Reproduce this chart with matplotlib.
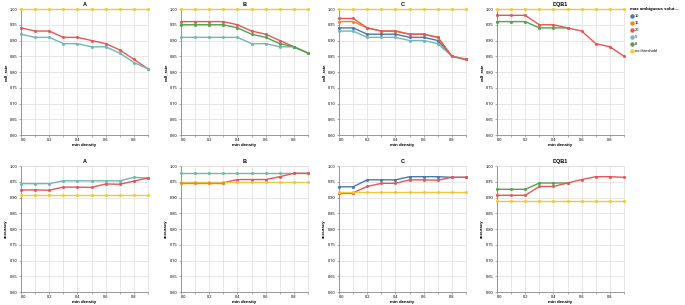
import numpy as np
import matplotlib
matplotlib.use("Agg")
import matplotlib.pyplot as plt
from matplotlib.lines import Line2D

plt.rcParams['font.family'] = ['Liberation Sans', 'DejaVu Sans']

nan = np.nan
min_density = [0.0, 0.1, 0.2, 0.3, 0.4, 0.5, 0.6, 0.7, 0.8, 0.9]
panels = ["A", "B", "C", "DQB1"]
series_names = ["10", "15", "20", "5", "8", "no threshold"]
colors = {"10": "#4c78a8", "15": "#f58518", "20": "#e45756",
          "5": "#72b7b2", "8": "#54a24b", "no threshold": "#eeca3b"}

# call_rate values
cr_A_20 = [0.94, 0.93, 0.93, 0.91, 0.91, 0.90, 0.89, 0.87, 0.84, 0.81]
cr_A_5 = [0.92, 0.91, 0.91, 0.89, 0.89, 0.88, 0.88, 0.86, 0.83, 0.81]
cr_A_none = [1.0] * 10
cr_B_20 = [0.96, 0.96, 0.96, 0.96, 0.95, 0.93, 0.92, 0.90, 0.88, 0.86]
cr_B_8 = [0.95, 0.95, 0.95, 0.95, 0.94, 0.92, 0.91, 0.89, 0.88, 0.86]
cr_B_5 = [0.91, 0.91, 0.91, 0.91, 0.91, 0.89, 0.89, 0.88, 0.88, 0.86]
cr_B_none = [1.0] * 10
cr_C_10 = [0.94, 0.94, 0.92, 0.92, 0.92, 0.91, 0.91, 0.90, 0.85, 0.84]
cr_C_15 = [0.96, 0.96, 0.94, 0.93, 0.93, 0.92, 0.92, 0.91, 0.85, 0.84]
cr_C_20 = [0.97, 0.97, 0.94, 0.93, 0.93, 0.92, 0.92, 0.91, 0.85, 0.84]
cr_C_5 = [0.93, 0.93, 0.91, 0.91, 0.91, 0.90, 0.90, 0.89, 0.85, 0.84]
cr_C_none = [1.0] * 10
cr_D_20 = [0.98, 0.98, 0.98, 0.95, 0.95, 0.94, 0.93, 0.89, 0.88, 0.85]
cr_D_8 = [0.96, 0.96, 0.96, 0.94, 0.94, 0.94, nan, nan, nan, nan]
cr_D_none = [1.0] * 10

# accuracy values
ac_A_5 = [0.944, 0.944, 0.944, 0.953, 0.953, 0.953, 0.953, 0.953, 0.964, 0.962]
ac_A_20 = [0.924, 0.924, 0.923, 0.933, 0.933, 0.932, 0.943, 0.942, 0.952, 0.962]
ac_A_none = [0.909] * 10
ac_B_5 = [0.977] * 10
ac_B_15 = [0.947, 0.947, 0.947, 0.947, nan, nan, nan, nan, nan, nan]
ac_B_20 = [nan, nan, nan, 0.947, 0.957, 0.957, 0.957, 0.966, 0.977, 0.977]
ac_B_none = [0.949] * 10
ac_C_10 = [0.934, 0.934, 0.956, 0.956, 0.956, 0.966, 0.966, 0.966, 0.964, 0.964]
ac_C_15 = [0.915, 0.915, nan, nan, nan, nan, nan, nan, nan, nan]
ac_C_20 = [0.915, 0.915, 0.935, 0.945, 0.945, 0.956, 0.956, 0.955, 0.964, 0.964]
ac_C_none = [0.918] * 10
ac_D_8 = [0.926, 0.926, 0.926, 0.946, 0.946, 0.946, nan, nan, nan, nan]
ac_D_20 = [0.907, 0.907, 0.907, 0.935, 0.935, 0.946, 0.957, 0.966, 0.966, 0.964]
ac_D_none = [0.888] * 10

call_rate = {
    "A": {"20": cr_A_20, "5": cr_A_5, "no threshold": cr_A_none},
    "B": {"20": cr_B_20, "5": cr_B_5, "8": cr_B_8, "no threshold": cr_B_none},
    "C": {"10": cr_C_10, "15": cr_C_15, "5": cr_C_5, "20": cr_C_20, "no threshold": cr_C_none},
    "DQB1": {"8": cr_D_8, "20": cr_D_20, "no threshold": cr_D_none},
}
accuracy = {
    "A": {"5": ac_A_5, "20": ac_A_20, "no threshold": ac_A_none},
    "B": {"5": ac_B_5, "20": ac_B_20, "no threshold": ac_B_none, "15": ac_B_15},
    "C": {"10": ac_C_10, "15": ac_C_15, "20": ac_C_20, "no threshold": ac_C_none},
    "DQB1": {"8": ac_D_8, "20": ac_D_20, "no threshold": ac_D_none},
}

W, H = 685, 305
fig = plt.figure(figsize=(W / 100, H / 100), dpi=100)

def rect(left, top, w, h):
    return [left / W, 1 - (top + h) / H, w / W, h / H]

lefts = [21, 181, 339, 497]
tops = [9, 166]
pw, ph = 127, 126
lab_fs = 2.9
title_fs = 3.2
head_fs = 4.0

for r, (data, ylab) in enumerate([(call_rate, "call_rate"), (accuracy, "accuracy")]):
    for c, p in enumerate(panels):
        ax = fig.add_axes(rect(lefts[c], tops[r], pw, ph))
        for name, vals in data[p].items():
            ax.plot(min_density, vals, color=colors[name], lw=1.0,
                    marker='o', ms=2.2, mew=0, solid_joinstyle='round',
                    zorder=3, clip_on=False)
        ax.set_xlim(0, 0.9)
        ax.set_ylim(0.6, 1.0)
        ax.set_xticks(min_density)
        ax.set_xticklabels([f"{v:.1f}" if i % 2 == 0 else "" for i, v in enumerate(min_density)])
        ax.set_yticks(np.arange(0.60, 1.001, 0.05))
        ax.set_yticklabels([f"{v:.2f}" for v in np.arange(0.60, 1.001, 0.05)])
        ax.grid(True, color='#dddddd', lw=0.5, zorder=0)
        ax.set_axisbelow(True)
        for s in ['top', 'right']:
            ax.spines[s].set_color('#dddddd')
            ax.spines[s].set_linewidth(0.5)
        for s in ['left', 'bottom']:
            ax.spines[s].set_color('#888888')
            ax.spines[s].set_linewidth(0.6)
        ax.tick_params(length=1.5, width=0.5, color='#888888', labelsize=lab_fs, pad=1)
        ax.tick_params(axis='x', pad=0.6)
        for lbl in ax.get_xticklabels():
            lbl.set_horizontalalignment('left' if lbl.get_text() == "0.0" else 'center')
        ax.set_xlabel("min density", fontsize=title_fs, fontweight='bold', labelpad=0.8)
        ax.set_ylabel(ylab, fontsize=title_fs, fontweight='bold', labelpad=1.5)
        ax.set_title(p, fontsize=head_fs, fontweight='bold', pad=2.5)

handles = [Line2D([], [], ls='none', marker='o', ms=3.2, mew=0, color=colors[n]) for n in series_names]
leg = fig.legend(handles, series_names, loc='upper left',
                 bbox_to_anchor=(630 / W, 1 - 7 / H), frameon=False,
                 fontsize=lab_fs, title="max ambiguous solut...",
                 title_fontproperties={'size': title_fs, 'weight': 'bold'},
                 handletextpad=0.2, labelspacing=0.75, borderaxespad=0,
                 handlelength=1.0, borderpad=0)
leg._legend_box.align = 'left'

fig.savefig("out.png", dpi=100)
